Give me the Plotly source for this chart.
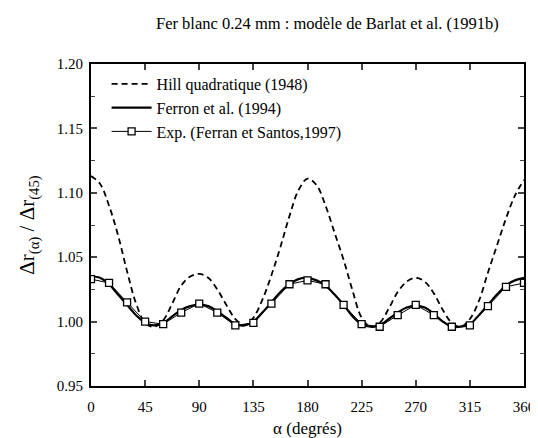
import plotly.graph_objects as go

# ---- data ----
theta_curve = [i * 7.5 for i in range(49)]
hill = [1.113, 1.107, 1.090, 1.067, 1.039, 1.014, 0.999, 0.996, 1.001, 1.014, 1.028, 1.035, 1.037,
        1.034, 1.025, 1.013, 1.002, 0.997, 1.003, 1.017, 1.036, 1.058, 1.082, 1.102, 1.111,
        1.106, 1.090, 1.069, 1.048, 1.024, 1.003, 0.996, 0.999, 1.010, 1.023, 1.031, 1.034,
        1.031, 1.022, 1.009, 0.999, 0.996, 1.002, 1.016, 1.038, 1.059, 1.080, 1.098, 1.110]
ferron = [1.035, 1.034, 1.029, 1.021, 1.013, 1.005, 0.999, 0.997, 0.999, 1.004, 1.009, 1.012, 1.013,
          1.012, 1.008, 1.003, 0.998, 0.997, 1.000, 1.007, 1.015, 1.023, 1.029, 1.033, 1.034,
          1.032, 1.028, 1.021, 1.013, 1.004, 0.998, 0.996, 0.997, 1.002, 1.007, 1.011, 1.012,
          1.011, 1.006, 1.000, 0.996, 0.996, 0.998, 1.005, 1.013, 1.021, 1.028, 1.032, 1.034]
theta_exp = [i * 15 for i in range(25)]
exp = [1.033, 1.030, 1.015, 1.000, 0.998, 1.007, 1.014, 1.007, 0.997, 0.999, 1.014, 1.029, 1.032,
       1.029, 1.013, 0.998, 0.996, 1.005, 1.013, 1.005, 0.996, 0.997, 1.012, 1.027, 1.030]
x_ticks = [0, 45, 90, 135, 180, 225, 270, 315, 360]
y_ticks = [0.95, 1.00, 1.05, 1.10, 1.15, 1.20]

FONT = "Liberation Serif, Times New Roman, serif"

fig = go.Figure()
fig.add_trace(go.Scatter(x=theta_curve, y=hill, mode="lines", name="Hill quadratique (1948)",
                         line=dict(color="black", width=1.8, dash="6px,4px", shape="spline")))
fig.add_trace(go.Scatter(x=theta_curve, y=ferron, mode="lines", name="Ferron et al. (1994)",
                         line=dict(color="black", width=2.2, shape="spline")))
fig.add_trace(go.Scatter(x=theta_exp, y=exp, mode="lines+markers",
                         name="Exp. (Ferran et Santos,1997)",
                         line=dict(color="black", width=1),
                         marker=dict(symbol="square", size=7, color="white",
                                     line=dict(color="black", width=1.3))))

fig.update_layout(
    width=538, height=438,
    margin=dict(l=83, r=11, t=56, b=54),
    paper_bgcolor="white", plot_bgcolor="white",
    font=dict(family=FONT, color="black", size=15),
    showlegend=True,
    legend=dict(x=0.036, y=0.991, xanchor="left", yanchor="top",
                bgcolor="rgba(0,0,0,0)", font=dict(family=FONT, size=16),
                tracegroupgap=0, itemwidth=40),
    annotations=[dict(text="Fer blanc 0.24 mm : modèle de Barlat et al. (1991b)",
                      x=0.547, y=1.125, xref="paper", yref="paper", showarrow=False,
                      font=dict(family=FONT, size=16.5), xanchor="center", yanchor="middle")],
)

fig.update_xaxes(range=[0, 360], tickvals=x_ticks, ticktext=[str(v) for v in x_ticks],
                 ticks="inside", ticklen=6, tickwidth=1.5, mirror="ticks",
                 showline=True, linecolor="black", linewidth=1.8, showgrid=False, zeroline=False,
                 tickfont=dict(family=FONT, size=15), ticklabelstandoff=6,
                 title=dict(text="α (degrés)", font=dict(family=FONT, size=17), standoff=8))
fig.update_yaxes(range=[0.95, 1.20], tickvals=y_ticks, ticktext=[f"{v:.2f}" for v in y_ticks],
                 ticks="inside", ticklen=6, tickwidth=1.5, mirror="ticks",
                 minor=dict(dtick=0.025, ticks="inside", ticklen=4, tickwidth=1.2, showgrid=False),
                 showline=True, linecolor="black", linewidth=1.8, showgrid=False, zeroline=False,
                 tickfont=dict(family=FONT, size=15), ticklabelstandoff=3,
                 title=dict(text="Δr<sub>(α)</sub> / Δr<sub>(45)</sub>",
                            font=dict(family=FONT, size=21), standoff=16))

fig.write_html("out.html")
